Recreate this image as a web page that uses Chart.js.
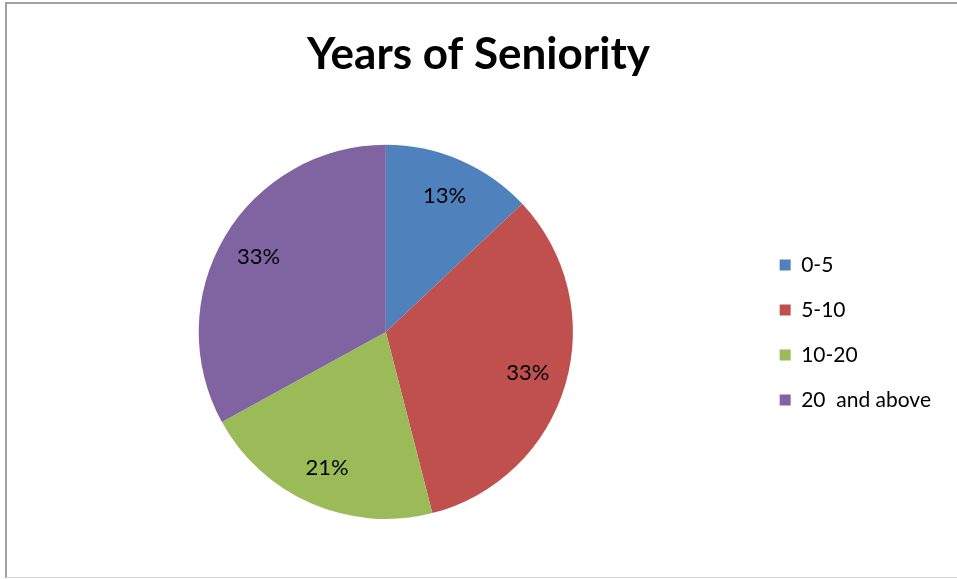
<!DOCTYPE html>
<html lang="en">
  <head>
    <meta charset="UTF-8" />
    <title>Years of Seniority</title>
    <script src="https://cdn.jsdelivr.net/npm/chart.js"></script>
    <style>
      body { margin: 0; background: #fff; overflow: hidden; }
      #frame {
        position: absolute; left: 5px; top: 2px; width: 960px; height: 573px;
        border-top: 2px solid #a0a0a0; border-left: 2px solid #a0a0a0;
        border-bottom: 1px solid #d4d4d4;
      }
      #wrap { position: absolute; left: 0; top: 0; width: 950px; height: 573px; }
    </style>
  </head>
  <body>
    <div id="frame">
      <div id="wrap"><canvas id="pieChart"></canvas></div>
    </div>

    <script>
      const categories = ["0-5", "5-10", "10-20", "20  and above"];
      const shares = [13, 33, 21, 33];
      const sliceColors = ["#4F81BD", "#C0504D", "#9BBB59", "#8064A2"];

      // percent labels inside each slice, like Excel's "best fit"
      const pctLabels = {
        id: "pctLabels",
        afterDatasetsDraw(chart) {
          const ctx = chart.ctx;
          const total = shares.reduce((a, b) => a + b, 0);
          ctx.save();
          ctx.font = "22px Lato";
          ctx.fillStyle = "#000";
          ctx.textAlign = "center";
          ctx.textBaseline = "middle";
          chart.getDatasetMeta(0).data.forEach((arc, i) => {
            const mid = (arc.startAngle + arc.endAngle) / 2;
            const r = arc.outerRadius * 0.79;
            const pct = Math.round((shares[i] / total) * 100) + "%";
            ctx.fillText(pct, arc.x + Math.cos(mid) * r, arc.y + Math.sin(mid) * r);
          });
          ctx.restore();
        },
      };

      new Chart(document.getElementById("pieChart"), {
        type: "pie",
        data: {
          labels: categories,
          datasets: [
            {
              data: shares,
              backgroundColor: sliceColors,
              borderWidth: 0,
            },
          ],
        },
        options: {
          responsive: true,
          maintainAspectRatio: false,
          animation: false,
          layout: { padding: { left: 9, right: 16, top: 0, bottom: 58 } },
          plugins: {
            title: {
              display: true,
              text: "Years of Seniority",
              color: "#000",
              font: { family: "Lato", size: 44, weight: "bold" },
              padding: { top: 24, bottom: 64 },
            },
            legend: {
              position: "right",
              // blank legend title only pushes the entries down to match
              title: {
                display: true,
                text: " ",
                font: { size: 10 },
                padding: { top: 65, bottom: 65 },
              },
              labels: {
                color: "#000",
                font: { family: "Lato", size: 21 },
                boxWidth: 11,
                boxHeight: 11,
                padding: 24,
              },
            },
            tooltip: { enabled: false },
          },
        },
        plugins: [pctLabels],
      });
    </script>
  </body>
</html>
